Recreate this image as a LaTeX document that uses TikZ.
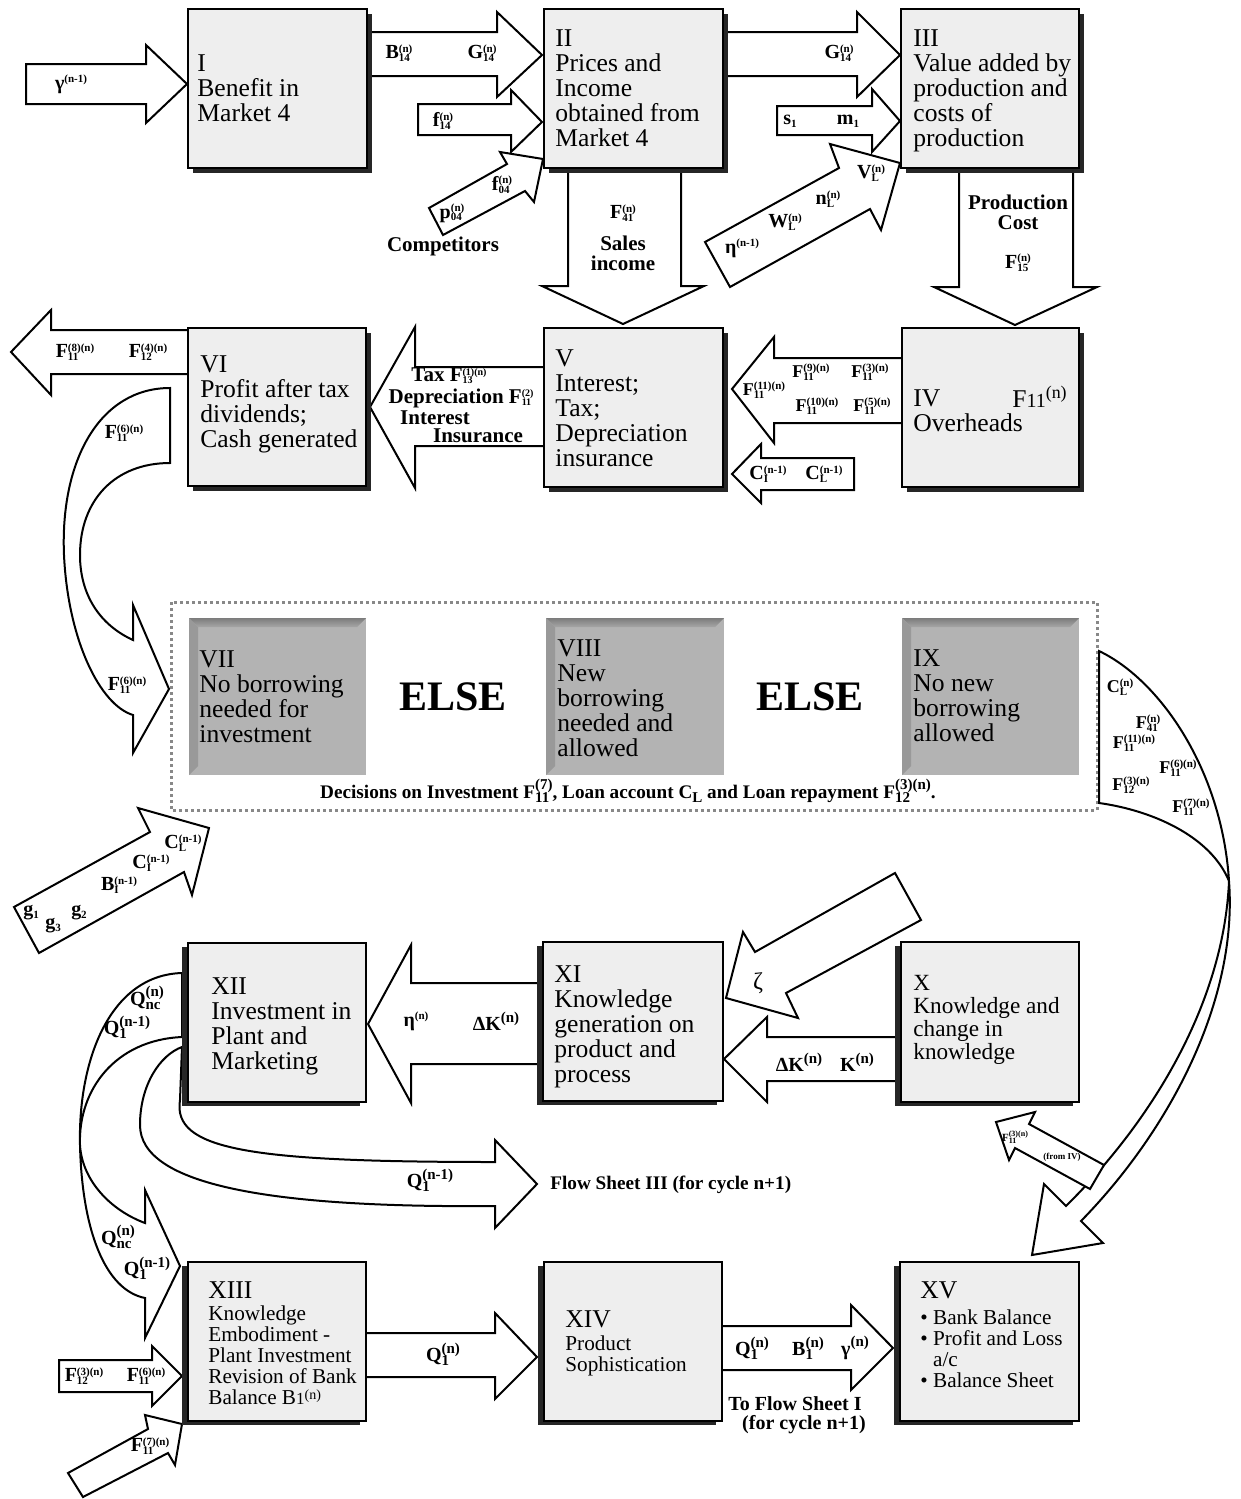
\documentclass[tikz,border=0pt]{standalone}
\usepackage{fontspec}
\setmainfont{Liberation Serif}
\usetikzlibrary{fit}
\definecolor{boxfill}{HTML}{EEEEEE}
\definecolor{shad}{HTML}{262626}
\definecolor{dfill}{HTML}{B3B3B3}
\definecolor{dbevA}{HTML}{7C7C7C}
\definecolor{dbevB}{HTML}{A6A6A6}
\definecolor{dbevC}{HTML}{999999}
\definecolor{dotc}{HTML}{888888}
\newcommand\fsz[1]{\fontsize{#1}{#1}\selectfont}
\newcommand\ssc[5]{{\fsz{#1}\bfseries\setbox0=\hbox{#2}\setbox2=\hbox{#3}\dimen0=\wd0 \ifdim\wd2>\dimen0 \dimen0=\wd2 \fi\hbox to\dimen0{\rlap{\lower#4\box0}\raise#5\box2\hss}}}
\newcommand\vlab[3]{\textbf{#1}\ssc{5.5}{#2}{#3}{1.4pt}{3.4pt}}
\newcommand\vLab[3]{\textbf{#1}\ssc{7.5}{#2}{#3}{2pt}{4.2pt}}
\newcommand\vsup[2]{\textbf{#1}\ssc{5.5}{}{#2}{0pt}{3.4pt}}
\newcommand\vSup[2]{\textbf{#1}\ssc{7.5}{}{#2}{0pt}{4.2pt}}
\newcommand\vsub[2]{\textbf{#1}\ssc{5.5}{#2}{}{1.4pt}{0pt}}
\newcommand\lbox[6]{\fill[shad,shift={(#6)}] (#2,#3) rectangle (#4,#5);
  \node[lboxs,fit={(#2,#3) (#4,#5)}] (#1) {};}
\newcommand\gbox[5]{\node[gboxs,fit={(#2,#3) (#4,#5)}] (#1) {};
  \shade[top color=dbevA,bottom color=dbevB] (#2,#3) -- (#4,#3) -- ({#4-9},{#3+9}) -- ({#2+9},{#3+9}) -- cycle;
  \fill[dbevC] (#2,#3) -- ({#2+9},{#3+9}) -- ({#2+9},{#5-9}) -- (#2,#5) -- cycle;}
\tikzset{
  lboxs/.style={draw=black, line width=0.7pt, fill=boxfill, inner sep=0pt, outer sep=0pt},
  gboxs/.style={fill=dfill, inner sep=0pt, outer sep=0pt},
  arr/.style={draw=black, fill=white, line width=1pt, line join=miter},
  btext/.style={anchor=north west, align=left, inner sep=0pt, font=\fontsize{12.8}{12.5}\selectfont},
  stext/.style={anchor=north west, align=left, inner sep=0pt, font=\fontsize{10.6}{10.5}\selectfont},
  lab/.style={inner sep=0pt, font=\fontsize{10}{10}\selectfont\bfseries},
  labs/.style={inner sep=0pt, font=\fontsize{9}{9}\selectfont\bfseries},
  labt/.style={inner sep=0pt, font=\fontsize{10.5}{9.5}\selectfont\bfseries},
}
\begin{document}
\begin{tikzpicture}[x=0.5pt,y=-0.5pt]
\useasboundingbox (0,0) rectangle (1241,1499);

% ---------------- arrows, row 1
\draw[arr] (26,64) -- (146,64) -- (146,45) -- (187,84) -- (146,123) -- (146,104) -- (26,104) -- cycle;
\draw[arr] (360,32) -- (497,32) -- (497,12) -- (542,55) -- (497,97) -- (497,76) -- (360,76) -- cycle;
\draw[arr] (418,104) -- (511,104) -- (511,90) -- (542,122) -- (511,152) -- (511,135) -- (418,135) -- cycle;
\draw[arr] (429,208) -- (507,164) -- (500,152) -- (543,159) -- (534,202) -- (525,191) -- (443,235) -- cycle;
\draw[arr] (715,32) -- (857,32) -- (857,12) -- (900,55) -- (857,97) -- (857,76) -- (715,76) -- cycle;
\draw[arr] (777,106) -- (872,106) -- (872,89) -- (900,121) -- (872,152) -- (872,135) -- (777,135) -- cycle;
\draw[arr] (705,242) -- (839,168) -- (830,144) -- (900,163) -- (881,230) -- (870,209) -- (730,287) -- cycle;
\draw[arr] (568,160) -- (681,160) -- (681,286) -- (704,286) -- (623,324) -- (542,286) -- (568,286) -- cycle;
\draw[arr] (959,160) -- (1073,160) -- (1073,287) -- (1097,287) -- (1015,325) -- (934,287) -- (959,287) -- cycle;

% ---------------- arrows, row 2
\draw[arr] (195,330) -- (51,330) -- (51,310) -- (11,352) -- (51,395) -- (51,374) -- (195,374) -- cycle;
\draw[arr] (550,367) -- (415,367) -- (415,327) -- (370,407) -- (415,488) -- (415,446) -- (550,446) -- cycle;
\draw[arr] (908,358) -- (774,358) -- (774,337) -- (732,389) -- (774,443) -- (774,423) -- (908,423) -- cycle;
\draw[arr] (854,458) -- (761,458) -- (761,444) -- (732,474) -- (761,503) -- (761,490) -- (854,490) -- cycle;
\draw[arr] (170,388) .. controls (100,388) and (60,460) .. (64,555) .. controls (68,640) and (100,705) .. (133,715)
  -- (133,753) -- (169,689) -- (133,605) -- (133,640)
  .. controls (100,625) and (80,595) .. (80,555) .. controls (80,500) and (115,463) .. (170,463) -- cycle;

% ---------------- decision frame
\draw[dotc, line width=1.5pt, dash pattern=on 1.5pt off 1.5pt] (171,602) rectangle (1097,810);
\draw[arr] (1099,651) .. controls (1160,680) and (1222,770) .. (1229,881) .. controls (1238,1000) and (1170,1130) .. (1081,1221)
  -- (1103,1243) -- (1032,1255) -- (1044,1184) -- (1066,1206)
  .. controls (1155,1118) and (1224,1000) .. (1229,881) .. controls (1210,835) and (1150,810) .. (1099,803) -- cycle;

% ---------------- arrows, rows 3 and 4
\draw[arr] (14,907) -- (150,832) -- (138,808) -- (209,828) -- (192,895) -- (184,872) -- (39,953) -- cycle;
\draw[arr] (895,873) -- (755,952) -- (743,932) -- (726,998) -- (798,1018) -- (786,993) -- (921,920) -- cycle;
\draw[arr] (908,1037) -- (767,1037) -- (767,1017) -- (724,1059) -- (767,1102) -- (767,1081) -- (908,1081) -- cycle;
\draw[arr] (550,983) -- (411,983) -- (411,945) -- (368,1024) -- (411,1103) -- (411,1064) -- (550,1064) -- cycle;
\draw[arr] (182,973) .. controls (110,975) and (78,1060) .. (80,1145) .. controls (82,1230) and (105,1290) .. (145,1298)
  -- (145,1338) -- (180,1266) -- (145,1190) -- (145,1223)
  .. controls (110,1210) and (82,1180) .. (80,1145) .. controls (78,1090) and (115,1040) .. (182,1037) -- cycle;
\draw[arr] (180,1100) .. controls (172,1150) and (250,1162) .. (495,1162) -- (495,1140) -- (537,1184) -- (495,1228) -- (495,1206)
  .. controls (270,1208) and (140,1185) .. (140,1125) .. controls (140,1085) and (160,1055) .. (182,1047) -- cycle;
\draw[arr] (1104,1165) -- (1029,1124) -- (1035,1112) -- (996,1122) -- (1009,1160) -- (1015,1148) -- (1090,1189) -- cycle;
\draw[arr] (59,1360) -- (152,1360) -- (152,1346) -- (182,1376) -- (152,1406) -- (152,1392) -- (59,1392) -- cycle;
\draw[arr] (68,1473) -- (148,1429) -- (145,1415) -- (182,1424) -- (175,1465) -- (168,1453) -- (83,1497) -- cycle;
\draw[arr] (360,1333) -- (495,1333) -- (495,1313) -- (537,1357) -- (495,1399) -- (495,1377) -- (360,1377) -- cycle;
\draw[arr] (715,1326) -- (851,1326) -- (851,1305) -- (893,1348) -- (851,1390) -- (851,1370) -- (715,1370) -- cycle;

% ---------------- boxes
\lbox{b1}{188}{9}{367}{168}{5,5}
\lbox{b2}{544}{9}{723}{168}{5,5}
\lbox{b3}{901}{9}{1079}{168}{5,5}
\lbox{b6}{188}{328}{366}{486}{5,5}
\lbox{b5}{544}{328}{723}{487}{5,5}
\lbox{b4}{902}{328}{1079}{487}{5,5}
\gbox{b7}{189}{618}{366}{775}
\gbox{b8}{546}{618}{724}{775}
\gbox{b9}{902}{618}{1079}{775}
\lbox{b12}{188}{943}{366}{1102}{-6,4}
\lbox{b11}{543}{942}{723}{1101}{-6,4}
\lbox{b10}{901}{942}{1079}{1102}{-6,4}
\lbox{b13}{188}{1262}{366}{1421}{-6,4}
\lbox{b14}{544}{1262}{722}{1421}{-6,4}
\lbox{b15}{900}{1262}{1079}{1421}{-6,4}

% ---------------- box texts
\node[btext] (t1) at (197,54) {I\\Benefit in\\Market 4};
\node[btext] (t2) at (555,29) {II\\Prices and\\Income\\obtained from\\Market 4};
\node[btext] (t3) at (913,29) {III\\Value added by\\production and\\costs of\\production};
\node[btext] (t6) at (200,355) {VI\\Profit after tax\\dividends;\\Cash generated};
\node[btext] (t5) at (555,349) {V\\Interest;\\Tax;\\Depreciation\\insurance};
\node[btext] (t4) at (913,389) {IV\\Overheads};
\node[inner sep=0pt, font=\fsz{12.8}] (t4b) at (1040,397) {F{\fsz{10}11}\textsuperscript{(n)}};
\node[btext] (t7) at (199,650) {VII\\No borrowing\\needed for\\investment};
\node[btext] (t8) at (557,639) {VIII\\New\\borrowing\\needed and\\allowed};
\node[btext] (t9) at (913,649) {IX\\No new\\borrowing\\allowed};
\node[btext] (t12) at (211,977) {XII\\Investment in\\Plant and\\Marketing};
\node[btext] (t11) at (554,965) {XI\\Knowledge\\generation on\\product and\\process};
\node[btext, font=\fontsize{11.6}{11.5}\selectfont] (t10) at (913,975) {X\\Knowledge and\\change in\\knowledge};
\node[btext] (t13a) at (208,1281) {XIII};
\node[stext] (t13b) at (208,1305) {Knowledge\\Embodiment -\\Plant Investment\\Revision of Bank\\Balance B{\fsz{8.5}1}\raisebox{2.4pt}{\fsz{7}(n)}};
\node[btext] (t14a) at (565,1310) {XIV};
\node[stext] (t14b) at (565,1335) {Product\\Sophistication};
\node[btext] (t15a) at (920,1281) {XV};
\node[stext] (t15b) at (920,1309) {\textbullet\ Bank Balance\\\textbullet\ Profit and Loss\\\hphantom{\textbullet\ }a/c\\\textbullet\ Balance Sheet};

\node[inner sep=0pt, font=\fsz{21}\bfseries] (e1) at (453,697) {ELSE};
\node[inner sep=0pt, font=\fsz{21}\bfseries] (e2) at (810,697) {ELSE};
\node[inner sep=0pt, font=\fsz{9.6}\bfseries] (dec) at (628,791) {Decisions on Investment \vLab{F}{11}{(7)}, Loan account \textbf{C}\ssc{7.5}{L}{}{2pt}{0pt} and Loan repayment \vLab{F}{12}{(3)(n)}.};

% ---------------- labels row 1
\node[lab] (l1) at (71,84) {\vsup{γ}{(n-1)}};
\node[lab] (l2) at (399,53) {\vlab{B}{14}{(n)}};
\node[lab] (l3) at (482,53) {\vlab{G}{14}{(n)}};
\node[lab] (l4) at (443,121) {\vlab{f}{14}{(n)}};
\node[lab] (l5) at (452,213) {\vlab{p}{04}{(n)}};
\node[lab] (l6) at (502,185) {\vlab{f}{04}{(n)}};
\node[labt] (l7) at (443,246) {Competitors};
\node[lab] (l8) at (839,53) {\vlab{G}{14}{(n)}};
\node[lab] (l9) at (790,121) {\vsub{s}{1}};
\node[lab] (l10) at (848,121) {\vsub{m}{1}};
\node[lab] (l11) at (742,248) {\vsup{η}{(n-1)}};
\node[lab] (l12) at (785,222) {\vlab{W}{L}{(n)}};
\node[lab] (l13) at (828,199) {\vlab{n}{L}{(n)}};
\node[lab] (l14) at (871,173) {\vlab{V}{L}{(n)}};
\node[lab] (l15) at (623,213) {\vlab{F}{41}{(n)}};
\node[labt] (l16) at (623,243) {Sales};
\node[labt] (l17) at (623,263) {income};
\node[labt] (l18) at (1018,202) {Production};
\node[labt] (l19) at (1018,223) {Cost};
\node[lab] (l20) at (1018,263) {\vlab{F}{15}{(n)}};

% ---------------- labels row 2
\node[lab] (l21) at (75,352) {\vlab{F}{11}{(8)(n)}};
\node[lab] (l22) at (148,352) {\vlab{F}{12}{(4)(n)}};
\node[labt] (l23) at (449,376) {Tax \textbf{F}\ssc{5}{13}{(1)(n)}{1pt}{3.2pt}};
\node[labt] (l24) at (461,398) {Depreciation \textbf{F}\ssc{5}{11}{(2)}{1pt}{3.2pt}};
\node[labt] (l25) at (435,418) {Interest};
\node[labt] (l26) at (478,436) {Insurance};
\node[labs] (l27) at (811,372) {\vlab{F}{11}{(9)(n)}};
\node[labs] (l28) at (870,372) {\vlab{F}{11}{(3)(n)}};
\node[labs] (l29) at (764,390) {\vlab{F}{11}{(11)(n)}};
\node[labs] (l30) at (817,406) {\vlab{F}{11}{(10)(n)}};
\node[labs] (l31) at (872,406) {\vlab{F}{11}{(5)(n)}};
\node[lab] (l32) at (768,474) {\vlab{C}{I}{(n-1)}};
\node[lab] (l33) at (824,474) {\vlab{C}{L}{(n-1)}};
\node[lab] (l34) at (124,433) {\vlab{F}{11}{(6)(n)}};
\node[lab] (l35) at (127,685) {\vlab{F}{11}{(6)(n)}};

% ---------------- labels right curve
\node[labs] (l36) at (1120,687) {\vlab{C}{L}{(n)}};
\node[labs] (l37) at (1148,723) {\vlab{F}{41}{(n)}};
\node[labs] (l38) at (1134,743) {\vlab{F}{11}{(11)(n)}};
\node[labs] (l39) at (1178,768) {\vlab{F}{11}{(6)(n)}};
\node[labs] (l40) at (1131,785) {\vlab{F}{12}{(3)(n)}};
\node[labs] (l41) at (1191,807) {\vlab{F}{11}{(7)(n)}};

% ---------------- labels g arrow
\node[lab] (l42) at (31,913) {\vsub{g}{1}};
\node[lab] (l43) at (53,926) {\vsub{g}{3}};
\node[lab] (l44) at (79,913) {\vsub{g}{2}};
\node[lab] (l45) at (119,885) {\vlab{B}{I}{(n-1)}};
\node[lab] (l46) at (151,863) {\vlab{C}{I}{(n-1)}};
\node[lab] (l47) at (183,843) {\vlab{C}{L}{(n-1)}};

% ---------------- labels rows 3, 4
\node[inner sep=0pt, font=\fsz{12}] (l48) at (758,983) {ζ};
\node[lab] (l49) at (799,1062) {\vSup{ΔK}{(n)}};
\node[lab] (l50) at (857,1062) {\vSup{K}{(n)}};
\node[lab] (l51) at (416,1021) {\vsup{η}{(n)}};
\node[lab] (l52) at (496,1021) {\vSup{ΔK}{(n)}};
\node[lab] (l53) at (147,998) {\vLab{Q}{nc}{(n)}};
\node[lab] (l54) at (127,1027) {\vLab{Q}{1}{(n-1)}};
\node[lab] (l55) at (118,1237) {\vLab{Q}{nc}{(n)}};
\node[lab] (l56) at (147,1268) {\vLab{Q}{1}{(n-1)}};
\node[lab] (l57) at (430,1180) {\vLab{Q}{1}{(n-1)}};
\node[inner sep=0pt, anchor=west, font=\fsz{9.6}\bfseries] (l58) at (550,1185) {Flow Sheet III (for cycle n+1)};
\node[inner sep=0pt, font=\fsz{5.5}\bfseries] (l59) at (1015,1137) {F\ssc{4}{11}{(3)(n)}{1pt}{2.4pt}};
\node[inner sep=0pt, font=\fsz{4.5}\bfseries] (l60) at (1062,1157) {(from IV)};
\node[lab] (l61) at (84,1376) {\vlab{F}{12}{(3)(n)}};
\node[lab] (l62) at (146,1376) {\vlab{F}{11}{(6)(n)}};
\node[lab] (l63) at (150,1446) {\vlab{F}{11}{(7)(n)}};
\node[lab] (l64) at (443,1354) {\vLab{Q}{1}{(n)}};
\node[lab] (l65) at (752,1348) {\vLab{Q}{1}{(n)}};
\node[lab] (l66) at (808,1348) {\vLab{B}{1}{(n)}};
\node[lab] (l67) at (855,1348) {\vSup{γ}{(n)}};
\node[inner sep=0pt, font=\fsz{10}\bfseries] (l68) at (795,1404) {To Flow Sheet I};
\node[inner sep=0pt, font=\fsz{10}\bfseries] (l69) at (804,1425) {(for cycle n+1)};
\end{tikzpicture}
\end{document}
